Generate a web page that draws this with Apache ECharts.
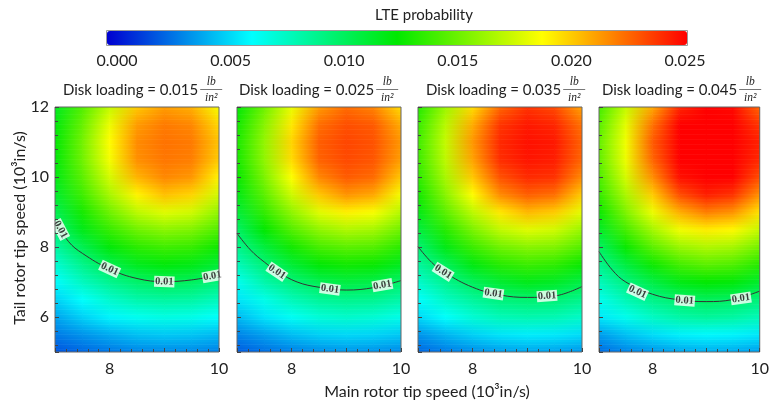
<!DOCTYPE html>
<html><head><meta charset="utf-8">
<script src="https://cdn.jsdelivr.net/npm/echarts/dist/echarts.min.js"></script>
<style>html,body{margin:0;padding:0;background:#fff;}#c{width:772px;height:407px;}</style>
</head><body><div id="c"></div>
<script>
// ---------------- data ----------------
const mainSpeed = [7, 7.5, 8, 8.5, 9, 9.5, 10];                       // 10^3 in/s
const tailSpeed = [5, 5.5, 6, 6.5, 7, 7.5, 8, 8.5, 9, 9.5, 10, 10.5, 11, 11.5, 12];
const diskLoadings = ['0.015', '0.025', '0.035', '0.045'];
const colorTicks = [0, 0.005, 0.010, 0.015, 0.020, 0.025];

// LTE probability, one row per tail speed (5 .. 12), columns = main speed (7 .. 10)
const lte015 = [
 [0.0020,0.0025,0.0029,0.0032,0.0033,0.0033,0.0031],
 [0.0030,0.0036,0.0042,0.0047,0.0049,0.0048,0.0045],
 [0.0040,0.0051,0.0060,0.0066,0.0069,0.0068,0.0063],
 [0.0051,0.0063,0.0075,0.0083,0.0086,0.0085,0.0079],
 [0.0062,0.0078,0.0090,0.0099,0.0104,0.0102,0.0095],
 [0.0073,0.0091,0.0106,0.0118,0.0123,0.0120,0.0112],
 [0.0085,0.0105,0.0123,0.0135,0.0140,0.0138,0.0128],
 [0.0096,0.0119,0.0138,0.0152,0.0159,0.0156,0.0144],
 [0.0105,0.0130,0.0152,0.0171,0.0180,0.0176,0.0160],
 [0.0114,0.0140,0.0166,0.0190,0.0203,0.0198,0.0176],
 [0.0120,0.0147,0.0177,0.0206,0.0217,0.0213,0.0190],
 [0.0123,0.0152,0.0185,0.0215,0.0221,0.0219,0.0200],
 [0.0124,0.0153,0.0188,0.0216,0.0222,0.0220,0.0202],
 [0.0122,0.0150,0.0183,0.0212,0.0220,0.0217,0.0197],
 [0.0117,0.0145,0.0173,0.0201,0.0212,0.0207,0.0185]
];
const lte025 = [
 [0.0022,0.0027,0.0031,0.0034,0.0036,0.0035,0.0033],
 [0.0032,0.0039,0.0046,0.0051,0.0053,0.0052,0.0049],
 [0.0045,0.0056,0.0065,0.0072,0.0075,0.0073,0.0068],
 [0.0056,0.0068,0.0080,0.0088,0.0091,0.0090,0.0084],
 [0.0066,0.0083,0.0095,0.0105,0.0109,0.0107,0.0099],
 [0.0079,0.0096,0.0112,0.0124,0.0129,0.0127,0.0118],
 [0.0090,0.0110,0.0129,0.0142,0.0147,0.0145,0.0135],
 [0.0100,0.0125,0.0145,0.0160,0.0168,0.0165,0.0152],
 [0.0111,0.0137,0.0160,0.0180,0.0191,0.0186,0.0169],
 [0.0120,0.0147,0.0175,0.0201,0.0214,0.0209,0.0185],
 [0.0126,0.0155,0.0187,0.0217,0.0228,0.0224,0.0201],
 [0.0130,0.0160,0.0196,0.0226,0.0232,0.0229,0.0211],
 [0.0131,0.0161,0.0198,0.0227,0.0233,0.0230,0.0213],
 [0.0129,0.0158,0.0193,0.0223,0.0231,0.0228,0.0208],
 [0.0123,0.0152,0.0182,0.0212,0.0224,0.0218,0.0196]
];
const lte035 = [
 [0.0025,0.0030,0.0034,0.0038,0.0040,0.0039,0.0036],
 [0.0036,0.0044,0.0051,0.0056,0.0058,0.0057,0.0054],
 [0.0053,0.0063,0.0073,0.0080,0.0082,0.0081,0.0076],
 [0.0063,0.0077,0.0087,0.0095,0.0098,0.0097,0.0091],
 [0.0075,0.0090,0.0103,0.0113,0.0119,0.0116,0.0108],
 [0.0086,0.0103,0.0121,0.0134,0.0139,0.0136,0.0127],
 [0.0097,0.0120,0.0139,0.0152,0.0158,0.0156,0.0145],
 [0.0109,0.0134,0.0155,0.0172,0.0180,0.0176,0.0162],
 [0.0120,0.0147,0.0171,0.0193,0.0205,0.0200,0.0181],
 [0.0129,0.0158,0.0188,0.0216,0.0227,0.0223,0.0200],
 [0.0135,0.0166,0.0201,0.0230,0.0240,0.0238,0.0216],
 [0.0139,0.0171,0.0210,0.0239,0.0245,0.0243,0.0225],
 [0.0140,0.0173,0.0213,0.0240,0.0246,0.0244,0.0226],
 [0.0138,0.0170,0.0208,0.0237,0.0244,0.0241,0.0222],
 [0.0133,0.0163,0.0196,0.0225,0.0238,0.0232,0.0210]
];
const lte045 = [
 [0.0026,0.0032,0.0036,0.0040,0.0042,0.0041,0.0038],
 [0.0038,0.0047,0.0054,0.0059,0.0061,0.0060,0.0057],
 [0.0057,0.0067,0.0077,0.0084,0.0087,0.0085,0.0080],
 [0.0067,0.0081,0.0092,0.0099,0.0103,0.0101,0.0095],
 [0.0079,0.0094,0.0108,0.0120,0.0125,0.0123,0.0114],
 [0.0090,0.0109,0.0128,0.0141,0.0147,0.0144,0.0134],
 [0.0101,0.0127,0.0147,0.0162,0.0168,0.0165,0.0153],
 [0.0115,0.0142,0.0165,0.0184,0.0192,0.0189,0.0173],
 [0.0127,0.0156,0.0183,0.0207,0.0219,0.0214,0.0194],
 [0.0137,0.0167,0.0200,0.0231,0.0243,0.0238,0.0214],
 [0.0143,0.0177,0.0215,0.0246,0.0256,0.0254,0.0231],
 [0.0148,0.0183,0.0225,0.0255,0.0261,0.0258,0.0240],
 [0.0149,0.0184,0.0228,0.0256,0.0262,0.0260,0.0242],
 [0.0146,0.0181,0.0222,0.0254,0.0260,0.0257,0.0237],
 [0.0141,0.0173,0.0209,0.0241,0.0254,0.0248,0.0225]
];

// 0.01 contour lines [main speed, tail speed]
const contour015 = [[7,8.75],[7.25,8.15],[7.5,7.82],[8,7.37],[8.5,7.1],[9,7.01],[9.5,7.06],[10,7.2]];
const contour025 = [[7,8.39],[7.25,7.91],[7.5,7.57],[7.75,7.29],[8.1,7.0],[8.5,6.85],[9,6.77],[9.5,6.84],[10,7.04]];
const contour035 = [[7,8.01],[7.25,7.56],[7.5,7.26],[8,6.85],[8.5,6.63],[9,6.56],[9.5,6.6],[10,6.87]];
const contour045 = [[7,7.87],[7.25,7.34],[7.5,7.0],[8,6.65],[8.5,6.49],[9,6.44],[9.5,6.5],[10,6.74]];
// contour label anchor points
const contourLabel015 = [[7.1,8.5],[8.0,7.37],[9.0,7.01],[9.88,7.17]];
const contourLabel025 = [[7.73,7.29],[8.7,6.8],[9.66,6.91]];
const contourLabel035 = [[7.46,7.29],[8.38,6.67],[9.36,6.6]];
const contourLabel045 = [[7.72,6.72],[8.6,6.47],[9.65,6.53]];
const contourLevel = '0.01';

// ---------------- layout / style ----------------
const panelData = [lte015, lte025, lte035, lte045];
const panelContours = [contour015, contour025, contour035, contour045];
const panelLabels = [contourLabel015, contourLabel025, contourLabel035, contourLabel045];
const labelAngles = [[-62, -25, -2, 10], [-34, -8, 10], [-32, -8, 4], [-25, -4, 8]];
const panelLeft = [55, 237, 418, 599];
const panelTop = 107, panelW = 164, panelH = 245;
const titleLeft = [63, 239, 426, 602];
const FONT = 'Lato, "Open Sans", sans-serif';
const TXT = '#222';
const STRIPS = 7;
const barBox = {left: 107, top: 31, length: 580, thickness: 14};

function cells(rows) {
  const out = [];
  rows.forEach((row, j) => row.forEach((v, i) => out.push([mainSpeed[i], tailSpeed[j], v])));
  return out;
}
// each data node is the lower-left corner of a shaded quad up to its right/upper neighbours
function renderCell(params, api) {
  const nc = mainSpeed.length, nr = tailSpeed.length;
  const idx = params.dataIndexInside;
  const i = idx % nc, j = Math.floor(idx / nc);
  if (i >= nc - 1 || j >= nr - 1) return null;
  const c00 = api.visual('color', idx), c10 = api.visual('color', idx + 1);
  const c01 = api.visual('color', idx + nc), c11 = api.visual('color', idx + nc + 1);
  const pA = api.coord([api.value(0, idx), api.value(1, idx)]);
  const pB = api.coord([api.value(0, idx + nc + 1), api.value(1, idx + nc + 1)]);
  const children = [];
  for (let k = 0; k < STRIPS; k++) {
    const t0 = k / STRIPS, t1 = (k + 1) / STRIPS, tm = (t0 + t1) / 2;
    const left = echarts.color.lerp(tm, [c00, c01]);
    const right = echarts.color.lerp(tm, [c10, c11]);
    const ya = pA[1] + (pB[1] - pA[1]) * t0, yb = pA[1] + (pB[1] - pA[1]) * t1;
    children.push({type: 'rect',
      shape: {x: pA[0] - 0.3, y: Math.min(ya, yb) - 0.3, width: pB[0] - pA[0] + 0.6, height: Math.abs(yb - ya) + 0.6},
      style: {fill: new echarts.graphic.LinearGradient(0, 0, 1, 0,
        [{offset: 0, color: left}, {offset: 1, color: right}])}});
  }
  return {type: 'group', children: children};
}

const grids = [], xAxes = [], yAxes = [], series = [], heatIdx = [];
for (let i = 0; i < 4; i++) {
  grids.push({left: panelLeft[i], top: panelTop, width: panelW, height: panelH,
    show: true, borderColor: '#666', borderWidth: 1, backgroundColor: 'transparent', z: 10});
  xAxes.push({type: 'value', gridIndex: i, min: 7, max: 10, interval: 1, z: 11,
    axisLine: {show: false}, splitLine: {show: false},
    axisTick: {show: true, inside: true, length: 4, lineStyle: {color: '#444'}},
    minorTick: {show: true, splitNumber: 5, length: 3, lineStyle: {color: '#444'}},
    axisLabel: {margin: 9, fontSize: 16, fontFamily: FONT, color: TXT,
      formatter: v => (v === 8 || v === 10) ? String(v) : ''}});
  yAxes.push({type: 'value', gridIndex: i, min: 5, max: 12, splitNumber: 4, z: 11,
    axisLine: {show: false}, splitLine: {show: false},
    axisTick: {show: true, inside: true, length: 4, lineStyle: {color: '#444'}},
    minorTick: {show: true, splitNumber: 5, length: 3, lineStyle: {color: '#444'}},
    axisLabel: {show: i === 0, margin: 6, fontSize: 16, fontFamily: FONT, color: TXT,
      formatter: v => (v % 2 === 0) ? String(v) : ''}});
  heatIdx.push(series.length);
  series.push({type: 'custom', xAxisIndex: i, yAxisIndex: i, renderItem: renderCell, clip: true,
    data: cells(panelData[i]), silent: true, z: 1});
  series.push({type: 'line', xAxisIndex: i, yAxisIndex: i, data: panelContours[i],
    smooth: 0.4, showSymbol: false, silent: true, z: 3,
    lineStyle: {color: '#333', width: 1}});
  series.push({type: 'scatter', xAxisIndex: i, yAxisIndex: i, symbolSize: 0, silent: true, z: 4,
    data: panelLabels[i].map((p, k) => ({value: p, label: {rotate: labelAngles[i][k]}})),
    label: {show: true, position: 'inside', formatter: contourLevel,
      fontFamily: '"Liberation Serif", "DejaVu Serif", serif', fontSize: 10.5, fontWeight: 'bold',
      color: '#111', backgroundColor: '#fff', padding: [0, 1, 0, 1]}});
}
// colour bar tick axis
grids.push({left: 117, top: barBox.top, width: 568, height: barBox.thickness, show: false});
xAxes.push({type: 'value', gridIndex: 4, min: colorTicks[0], max: colorTicks[colorTicks.length - 1],
  interval: colorTicks[1] - colorTicks[0],
  axisLine: {show: false}, axisTick: {show: false}, splitLine: {show: false},
  axisLabel: {margin: 8, fontSize: 16, fontFamily: FONT, color: TXT, formatter: v => v.toFixed(3)}});
yAxes.push({type: 'value', gridIndex: 4, show: false});

// titles with fractions
const measureCtx = document.createElement('canvas').getContext('2d');
const graphics = [];
function txt(x, y, text, font, extra) {
  return {type: 'text', x: x, y: y, silent: true,
    style: Object.assign({text: text, font: font, fill: TXT,
      textAlign: 'left', align: 'left', textVerticalAlign: 'middle', verticalAlign: 'middle'}, extra || {})};
}
const titleFont = '15px Lato';
for (let i = 0; i < 4; i++) {
  const s = 'Disk loading = ' + diskLoadings[i];
  measureCtx.font = titleFont;
  const w = measureCtx.measureText(s).width;
  graphics.push(txt(titleLeft[i], 90, s, titleFont));
  const fx = titleLeft[i] + w + 2, fw = 22, fc = fx + fw / 2;
  graphics.push(txt(fc, 82, 'lb', 'italic 11.5px "Liberation Serif", serif', {textAlign: 'center', align: 'center'}));
  graphics.push(txt(fc, 98, 'in²', 'italic 11.5px "Liberation Serif", serif', {textAlign: 'center', align: 'center'}));
  graphics.push({type: 'line', silent: true, shape: {x1: fx, y1: 89.5, x2: fx + fw, y2: 89.5},
    style: {stroke: '#555', lineWidth: 0.8}});
}
// soft frame around the colour bar
graphics.push({type: 'rect', silent: true, z: 100,
  shape: {x: barBox.left - 0.5, y: barBox.top - 0.5, width: barBox.length + 1, height: barBox.thickness + 1},
  style: {fill: 'none', stroke: '#9a9a9a', lineWidth: 1}});
graphics.push(txt(424, 15, 'LTE probability', '15px Lato', {textAlign: 'center', align: 'center'}));
graphics.push(txt(427, 392, 'Main rotor tip speed (10³in/s)', '16px Lato', {textAlign: 'center', align: 'center'}));
graphics.push(Object.assign(txt(20, 228, 'Tail rotor tip speed (10³in/s)', '16px Lato',
  {textAlign: 'center', align: 'center'}), {rotation: Math.PI / 2}));

const chart = echarts.init(document.getElementById('c'), null, {renderer: 'canvas'});
chart.setOption({
  animation: false,
  backgroundColor: '#fff',
  grid: grids, xAxis: xAxes, yAxis: yAxes,
  visualMap: {type: 'continuous', min: colorTicks[0], max: colorTicks[colorTicks.length - 1], dimension: 2,
    seriesIndex: heatIdx,
    orient: 'horizontal', left: barBox.left, top: barBox.top, itemWidth: barBox.thickness,
    itemHeight: barBox.length, padding: 0,
    calculable: false, realtime: false, text: null, showLabel: false, hoverLink: false,
    inRange: {color: ['#0000d0', '#00ffff', '#00e800', '#ffff00', '#ff0000']}},
  series: series,
  graphic: graphics
});
</script></body></html>
